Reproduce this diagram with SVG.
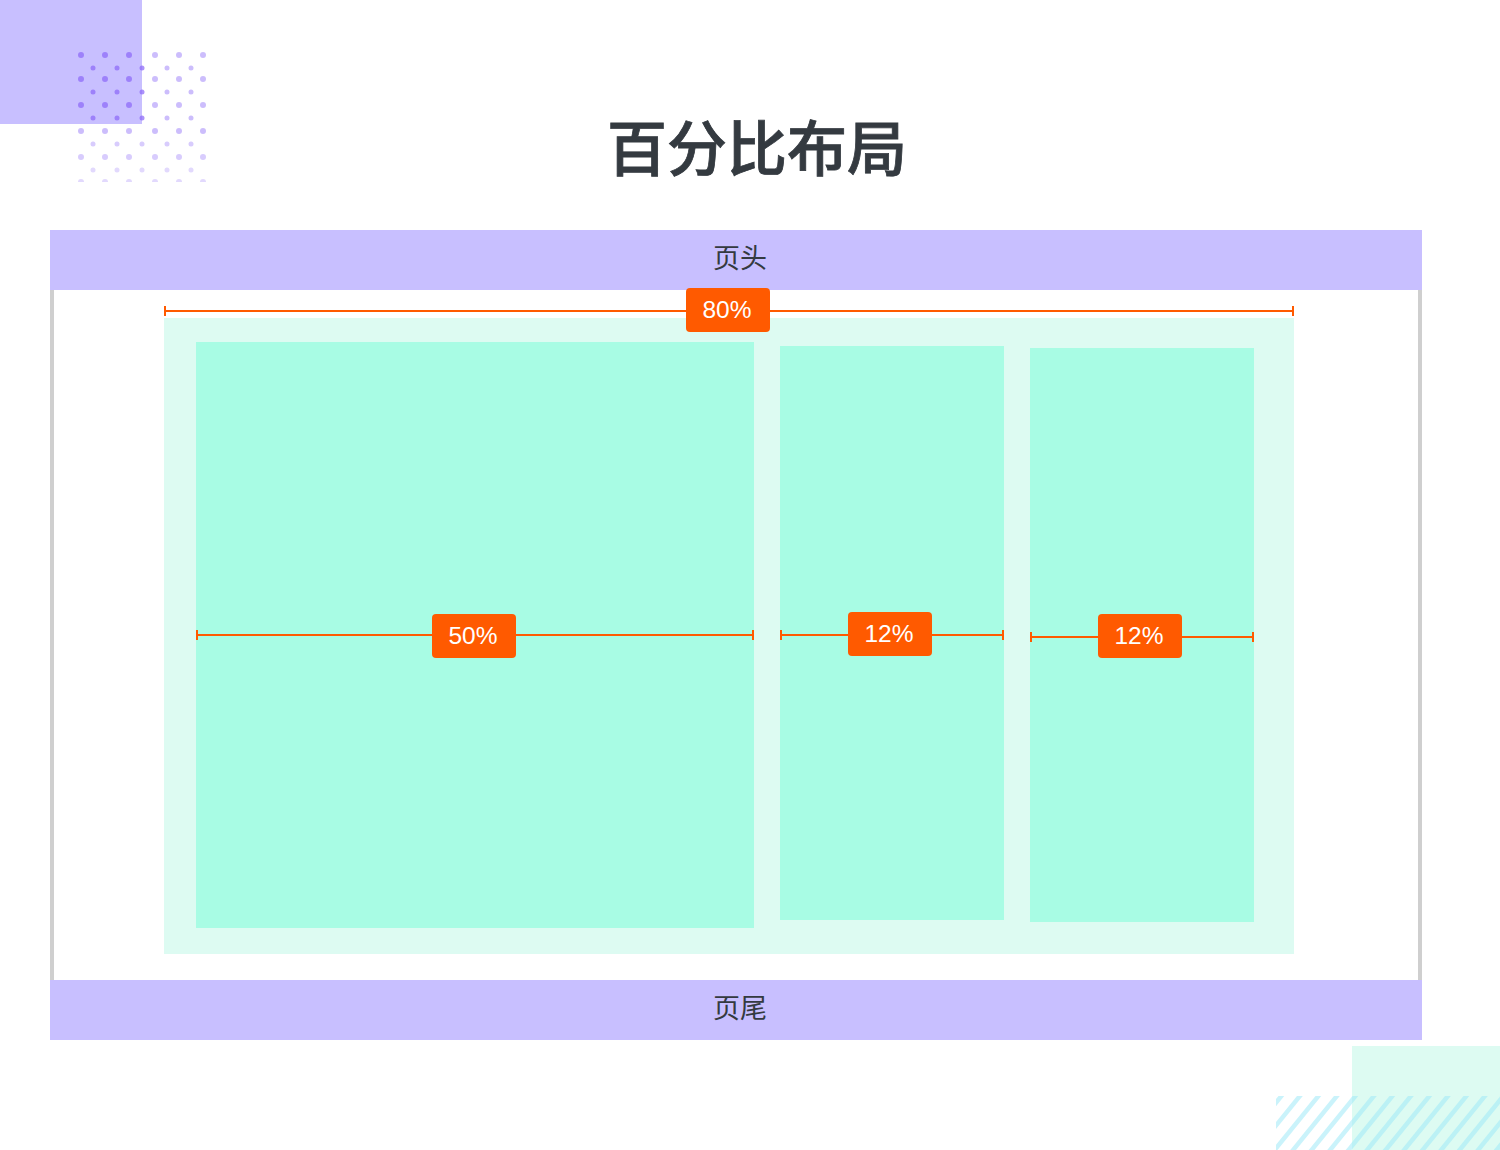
<svg xmlns="http://www.w3.org/2000/svg" width="1500" height="1150" viewBox="0 0 1500 1150">
<style>
.bar{fill:#c8bfff}
.outer{fill:#ddfbf2}
.col{fill:#a8fce4}
.cjk{font-family:"Noto Sans CJK SC","Noto Sans",sans-serif;fill:#343a40;text-anchor:middle}
.title{font-size:60px;font-weight:500;stroke:#343a40;stroke-width:.8px}
.band{font-size:27px}
.dim{stroke:#ff5a00;stroke-width:2;fill:none}
.tag{fill:#ff5a00}
.pct{font-family:"Liberation Sans",Arial,sans-serif;font-size:24.500px;fill:#fff;text-anchor:middle}
.stripe{stroke:#9fe9f8;stroke-width:4.500;stroke-opacity:.55;fill:none}
.r1{fill:#8f6cf8;fill-opacity:.75}
.r2{fill:#8f6cf8;fill-opacity:.45}
.r3{fill:#8f6cf8;fill-opacity:.35}
.r4{fill:#8f6cf8;fill-opacity:.26}
</style>
<defs>
<clipPath id="stripeClip"><rect x="1276" y="1096" width="224" height="54"/></clipPath>
<clipPath id="dotClip"><rect x="70" y="45" width="145" height="137"/></clipPath>
</defs>
<g id="deco-top">
<rect x="0" y="0" width="142" height="124" class="bar"/>
<g clip-path="url(#dotClip)">
<g class="r1"><circle cx="81" cy="55" r="3"/><circle cx="105" cy="55" r="3"/><circle cx="129" cy="55" r="3"/><circle cx="81" cy="79" r="3"/><circle cx="105" cy="79" r="3"/><circle cx="129" cy="79" r="3"/><circle cx="81" cy="105" r="3"/><circle cx="105" cy="105" r="3"/><circle cx="129" cy="105" r="3"/><circle cx="93" cy="68" r="2.500"/><circle cx="117" cy="68" r="2.500"/><circle cx="93" cy="92" r="2.500"/><circle cx="117" cy="92" r="2.500"/><circle cx="93" cy="118" r="2.500"/><circle cx="117" cy="118" r="2.500"/><circle cx="142" cy="68" r="2.500"/><circle cx="142" cy="92" r="2.500"/><circle cx="142" cy="118" r="2.500"/></g>
<g class="r2"><circle cx="155" cy="55" r="3"/><circle cx="179" cy="55" r="3"/><circle cx="203" cy="55" r="3"/><circle cx="155" cy="79" r="3"/><circle cx="179" cy="79" r="3"/><circle cx="203" cy="79" r="3"/><circle cx="155" cy="105" r="3"/><circle cx="179" cy="105" r="3"/><circle cx="203" cy="105" r="3"/><circle cx="167" cy="68" r="2.500"/><circle cx="191" cy="68" r="2.500"/><circle cx="167" cy="92" r="2.500"/><circle cx="191" cy="92" r="2.500"/><circle cx="167" cy="118" r="2.500"/><circle cx="191" cy="118" r="2.500"/><circle cx="81" cy="131" r="3"/><circle cx="105" cy="131" r="3"/><circle cx="129" cy="131" r="3"/><circle cx="155" cy="131" r="3"/><circle cx="179" cy="131" r="3"/><circle cx="203" cy="131" r="3"/></g>
<g class="r3"><circle cx="93" cy="144" r="2.500"/><circle cx="117" cy="144" r="2.500"/><circle cx="142" cy="144" r="2.500"/><circle cx="167" cy="144" r="2.500"/><circle cx="191" cy="144" r="2.500"/><circle cx="81" cy="157" r="3"/><circle cx="105" cy="157" r="3"/><circle cx="129" cy="157" r="3"/><circle cx="155" cy="157" r="3"/><circle cx="179" cy="157" r="3"/><circle cx="203" cy="157" r="3"/></g>
<g class="r4"><circle cx="93" cy="170" r="2.500"/><circle cx="117" cy="170" r="2.500"/><circle cx="142" cy="170" r="2.500"/><circle cx="167" cy="170" r="2.500"/><circle cx="191" cy="170" r="2.500"/><circle cx="81" cy="182" r="3"/><circle cx="105" cy="182" r="3"/><circle cx="129" cy="182" r="3"/><circle cx="155" cy="182" r="3"/><circle cx="179" cy="182" r="3"/><circle cx="203" cy="182" r="3"/></g>
</g>
</g>
<g id="deco-bottom">
<rect x="1352" y="1046" width="148" height="104" class="outer"/>
<path class="stripe" clip-path="url(#stripeClip)" d="M1283 1094l-47 58M1301.500 1094l-47 58M1320 1094l-47 58M1338.500 1094l-47 58M1357 1094l-47 58M1375.500 1094l-47 58M1394 1094l-47 58M1412.500 1094l-47 58M1431 1094l-47 58M1449.500 1094l-47 58M1468 1094l-47 58M1486.500 1094l-47 58M1505 1094l-47 58M1523.500 1094l-47 58M1542 1094l-47 58"/>
</g>
<g id="title"><text x="757" y="171" class="cjk title">百分比布局</text></g>
<g id="page">
<rect x="50" y="290" width="4" height="690" fill="#cfcfcf"/>
<rect x="1418" y="290" width="4" height="690" fill="#cfcfcf"/>
</g>
<g id="header"><rect x="50" y="230" width="1372" height="60" class="bar"/><text x="740" y="268" class="cjk band">页头</text></g>
<g id="footer"><rect x="50" y="980" width="1372" height="60" class="bar"/><text x="740" y="1018" class="cjk band">页尾</text></g>
<g id="container"><rect x="164" y="318" width="1130" height="636" class="outer"/></g>
<g id="col-1"><rect x="196" y="342" width="558" height="586" class="col"/></g>
<g id="col-2"><rect x="780" y="346" width="224" height="574" class="col"/></g>
<g id="col-3"><rect x="1030" y="348" width="224" height="574" class="col"/></g>
<g id="connectors">
<path class="dim" d="M165 311H1293M165 306v10M1293 306v10"/>
<path class="dim" d="M197 635H753M197 630v10M753 630v10"/>
<path class="dim" d="M781 635H1003M781 630v10M1003 630v10"/>
<path class="dim" d="M1031 637H1253M1031 632v10M1253 632v10"/>
</g>
<g id="tag-80"><rect x="686" y="288" width="84" height="44" rx="4" class="tag"/><text x="727" y="318" class="pct">80%</text></g>
<g id="tag-50"><rect x="432" y="614" width="84" height="44" rx="4" class="tag"/><text x="473" y="644" class="pct">50%</text></g>
<g id="tag-12a"><rect x="848" y="612" width="84" height="44" rx="4" class="tag"/><text x="889" y="642" class="pct">12%</text></g>
<g id="tag-12b"><rect x="1098" y="614" width="84" height="44" rx="4" class="tag"/><text x="1139" y="644" class="pct">12%</text></g>
</svg>
